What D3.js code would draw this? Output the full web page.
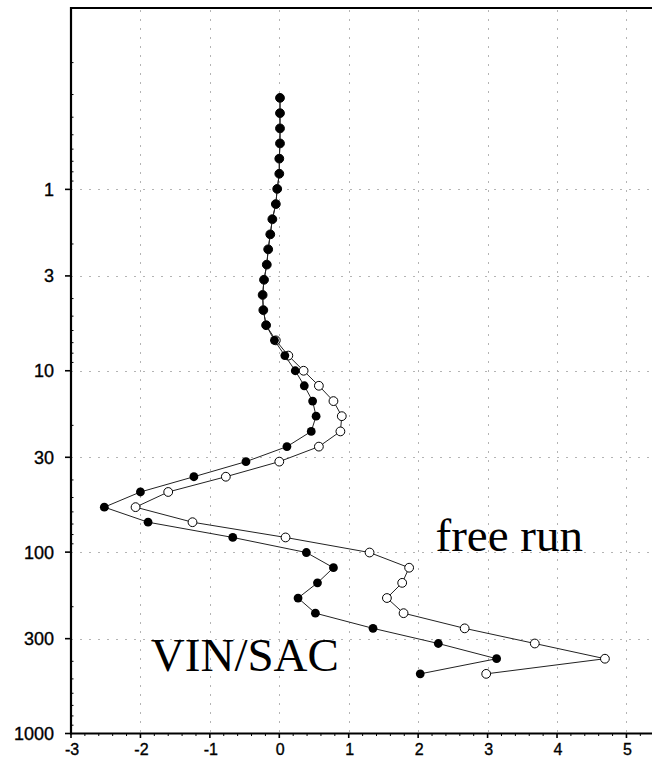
<!DOCTYPE html>
<html>
<head>
<meta charset="utf-8">
<script src="https://cdn.jsdelivr.net/npm/d3@7"></script>
<style>
  html, body { margin: 0; padding: 0; background: #fff; }
  svg { display: block; }
  .tick-label { font-family: "Liberation Sans", Arial, sans-serif; fill: #000; stroke: #000; stroke-width: 0.35px; }
  .series-label { font-family: "Liberation Serif", "Times New Roman", serif; font-size: 47px; fill: #000; }
</style>
</head>
<body>
<svg id="chart" width="652" height="758"></svg>
<script>
// Pressure levels (hPa), top of the profile to the bottom
const pressureLevels = [
  0.313, 0.380, 0.461, 0.558, 0.677, 0.820, 0.994, 1.205, 1.46, 1.77,
  2.14, 2.60, 3.15, 3.82, 4.63, 5.61, 6.80, 8.25, 10.0, 12.1,
  14.7, 17.8, 21.6, 26.2, 31.7, 38.4, 46.6, 56.5, 68.4, 83.0,
  100.5, 121.9, 147.7, 179.1, 217.1, 263.2, 319, 387, 469
];

// Assimilation profile (filled markers)
const vinSac = [
  0.01, 0.01, 0.01, 0.01, 0.00, 0.00, -0.03, -0.05, -0.10, -0.13,
  -0.16, -0.18, -0.22, -0.24, -0.23, -0.19, -0.07, 0.08, 0.23, 0.36,
  0.48, 0.53, 0.46, 0.11, -0.48, -1.23, -2.00, -2.52, -1.89, -0.67,
  0.39, 0.78, 0.55, 0.27, 0.52, 1.35, 2.29, 3.13, 2.03
];

// Free-running profile (open markers)
const freeRun = [
  0.01, 0.01, 0.01, 0.01, 0.00, 0.00, -0.03, -0.05, -0.10, -0.13,
  -0.16, -0.18, -0.22, -0.24, -0.23, -0.19, -0.05, 0.13, 0.35, 0.57,
  0.78, 0.90, 0.88, 0.57, 0.00, -0.77, -1.60, -2.07, -1.25, 0.09,
  1.30, 1.87, 1.77, 1.55, 1.79, 2.67, 3.68, 4.69, 2.98
];

const xTicks = [-3, -2, -1, 0, 1, 2, 3, 4, 5];
const yTicks = [1, 3, 10, 30, 100, 300, 1000];
const seriesLabels = ["free run", "VIN/SAC"];

const svg = d3.select("#chart");
const plotLeft = 71, plotRight = 657, plotTop = 8, plotBottom = 733.5;

const x = d3.scaleLinear().domain([-3, 5.44]).range([plotLeft, plotRight]);
const y = d3.scaleLog().domain([0.1, 1000]).range([plotTop, plotBottom]);

// dotted grid
const grid = svg.append("g")
  .attr("stroke", "#b4b4b4")
  .attr("stroke-width", 1)
  .attr("stroke-dasharray", "2,7");
grid.selectAll("line.v").data(xTicks.filter(d => d > -3))
  .join("line").attr("class", "v")
  .attr("x1", d => Math.round(x(d)) + 0.5).attr("x2", d => Math.round(x(d)) + 0.5)
  .attr("y1", plotTop + 2).attr("y2", plotBottom);
grid.selectAll("line.h").data(yTicks.filter(d => d < 1000))
  .join("line").attr("class", "h")
  .attr("y1", d => Math.round(y(d)) + 0.5).attr("y2", d => Math.round(y(d)) + 0.5)
  .attr("x1", plotLeft).attr("x2", 652);

// profiles
const line = d3.line()
  .x(d => x(d[0]))
  .y(d => y(d[1]));

const freePts = freeRun.map((v, i) => [v, pressureLevels[i]]);
const vinPts = vinSac.map((v, i) => [v, pressureLevels[i]]);

svg.append("path").datum(freePts)
  .attr("d", line).attr("fill", "none")
  .attr("stroke", "#222").attr("stroke-width", 1);
svg.append("g").selectAll("circle").data(freePts).join("circle")
  .attr("cx", d => x(d[0])).attr("cy", d => y(d[1]))
  .attr("r", 4.4).attr("fill", "#fff")
  .attr("stroke", "#000").attr("stroke-width", 1);

svg.append("path").datum(vinPts)
  .attr("d", line).attr("fill", "none")
  .attr("stroke", "#222").attr("stroke-width", 1);
svg.append("g").selectAll("circle").data(vinPts).join("circle")
  .attr("cx", d => x(d[0])).attr("cy", d => y(d[1]))
  .attr("r", 4.4).attr("fill", "#000");

// bottom axis: major ticks, minor ticks, labels
const axes = svg.append("g").attr("stroke", "#000");
axes.selectAll("line.xmaj").data(xTicks).join("line").attr("class", "xmaj")
  .attr("x1", d => x(d)).attr("x2", d => x(d))
  .attr("y1", plotBottom).attr("y2", plotBottom + 4.5)
  .attr("stroke-width", 1.6);
const minorX = d3.range(-3, 5.41, 0.2).filter(d => Math.abs(d - Math.round(d)) > 0.01);
axes.selectAll("line.xmin").data(minorX).join("line").attr("class", "xmin")
  .attr("x1", d => x(d)).attr("x2", d => x(d))
  .attr("y1", plotBottom).attr("y2", plotBottom + 2.5)
  .attr("stroke-width", 1);

svg.append("g").selectAll("text").data(xTicks).join("text")
  .attr("class", "tick-label")
  .attr("x", d => x(d) + 1).attr("y", 754.5)
  .attr("text-anchor", "middle")
  .style("font-size", "16px")
  .text(d => d < 0 ? "-" + Math.abs(d) : String(d));

// left axis: major ticks, minor log ticks, labels
axes.selectAll("line.ymaj").data(yTicks).join("line").attr("class", "ymaj")
  .attr("x1", plotLeft - 6).attr("x2", plotLeft)
  .attr("y1", d => y(d)).attr("y2", d => y(d))
  .attr("stroke-width", 1.6);
const minorY = [];
[0.1, 1, 10, 100].forEach(b => [2, 4, 5, 6, 7, 8, 9].forEach(m => minorY.push(b * m)));
minorY.push(0.3);
axes.selectAll("line.ymin").data(minorY).join("line").attr("class", "ymin")
  .attr("x1", plotLeft).attr("x2", plotLeft + 2.5)
  .attr("y1", d => y(d)).attr("y2", d => y(d))
  .attr("stroke-width", 1);

svg.append("g").selectAll("text").data(yTicks).join("text")
  .attr("class", "tick-label")
  .attr("x", plotLeft - 17).attr("y", d => y(d))
  .attr("dy", "0.36em")
  .attr("text-anchor", "end")
  .style("font-size", "18px")
  .text(d => String(d));

// frame lines
const frame = svg.append("g").attr("stroke", "#000").attr("stroke-width", 2.2).attr("fill", "none");
frame.append("line").attr("x1", plotLeft).attr("x2", 652).attr("y1", plotTop).attr("y2", plotTop);
frame.append("line").attr("x1", plotLeft).attr("x2", plotLeft).attr("y1", plotTop - 1).attr("y2", plotBottom + 1);
frame.append("line").attr("x1", plotLeft - 1).attr("x2", 652).attr("y1", plotBottom).attr("y2", plotBottom);

// series labels
svg.append("text").attr("class", "series-label")
  .attr("x", x(2.25)).attr("y", y(98)).text(seriesLabels[0]);
svg.append("text").attr("class", "series-label")
  .attr("x", x(-1.85)).attr("y", y(450)).text(seriesLabels[1]);
</script>
</body>
</html>
